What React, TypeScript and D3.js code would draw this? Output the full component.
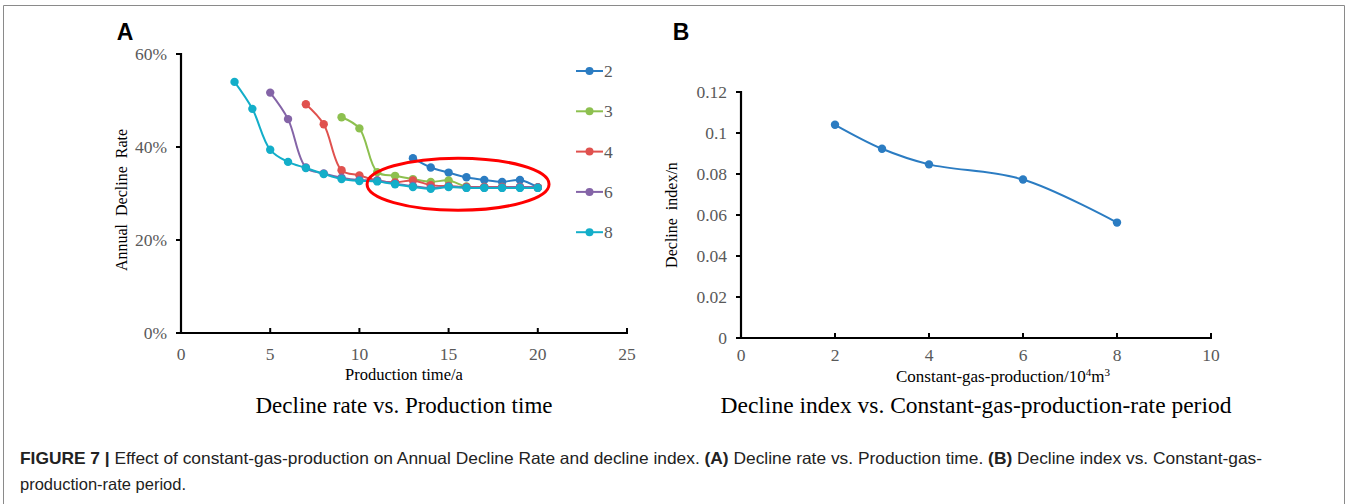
import * as d3 from "d3";

// ---- Panel A: annual decline rate vs production time, one series per constant-gas-production period
const seriesNames = ["2", "3", "4", "6", "8"];
const time2 = [13, 14, 15, 16, 17, 18, 19, 20];
const rate2 = [0.376, 0.356, 0.345, 0.335, 0.329, 0.325, 0.329, 0.313];
const time3 = [9, 10, 11, 12, 13, 14, 15, 16, 17, 18, 19, 20];
const rate3 = [0.464, 0.44, 0.346, 0.338, 0.331, 0.325, 0.328, 0.315, 0.314, 0.314, 0.314, 0.313];
const time4 = [7, 8, 9, 10, 11, 12, 13, 14, 15, 16, 17, 18, 19, 20];
const rate4 = [0.492, 0.449, 0.35, 0.339, 0.328, 0.324, 0.328, 0.318, 0.316, 0.314, 0.314, 0.314, 0.314, 0.313];
const time6 = [5, 6, 7, 8, 9, 10, 11, 12, 13, 14, 15, 16, 17, 18, 19, 20];
const rate6 = [0.517, 0.46, 0.356, 0.343, 0.334, 0.329, 0.328, 0.321, 0.316, 0.312, 0.315, 0.313, 0.313, 0.313, 0.314, 0.313];
const time8 = [3, 4, 5, 6, 7, 8, 9, 10, 11, 12, 13, 14, 15, 16, 17, 18, 19, 20];
const rate8 = [0.54, 0.482, 0.394, 0.368, 0.355, 0.342, 0.331, 0.327, 0.326, 0.32, 0.314, 0.31, 0.314, 0.312, 0.312, 0.312, 0.312, 0.312];
const seriesColors = ["#2b7cc2", "#8dc04f", "#e0514e", "#8464a7", "#13aec9"];
const xTicksA = [0, 5, 10, 15, 20, 25];
const yTicksA = [0, 0.2, 0.4, 0.6];

// ---- Panel B: decline index vs constant-gas-production
const gasProduction = [2, 3, 4, 6, 8];
const declineIndex = [0.104, 0.0923, 0.0847, 0.0773, 0.0563];
const xTicksB = [0, 2, 4, 6, 8, 10];
const yTicksB = [0, 0.02, 0.04, 0.06, 0.08, 0.1, 0.12];

const W = 1351;
const H = 504;
const SERIF = "'Liberation Serif', 'Times New Roman', serif";
const SANS = "'Liberation Sans', Arial, sans-serif";
const TICK_GRAY = "#595959";
const TICK_FS = 17.5;

export default function App() {
  const xA = d3.scaleLinear().domain([0, 25]).range([181, 627]);
  const yA = d3.scaleLinear().domain([0, 0.6]).range([333, 54]);
  const xB = d3.scaleLinear().domain([0, 10]).range([741, 1211]);
  const yB = d3.scaleLinear().domain([0, 0.12]).range([338, 92]);

  const times = [time2, time3, time4, time6, time8];
  const rates = [rate2, rate3, rate4, rate6, rate8];
  const seriesA = seriesNames.map((name, i) => ({
    name,
    color: seriesColors[i],
    points: times[i].map((t, j) => [t, rates[i][j]] as [number, number]),
  }));
  const pointsB = gasProduction.map((g, i) => [g, declineIndex[i]] as [number, number]);

  const lineA = d3
    .line<[number, number]>()
    .x((d) => xA(d[0]))
    .y((d) => yA(d[1]))
    .curve(d3.curveCatmullRom.alpha(0.5));
  const lineB = d3
    .line<[number, number]>()
    .x((d) => xB(d[0]))
    .y((d) => yB(d[1]))
    .curve(d3.curveCatmullRom.alpha(0.5));

  // red highlight ellipse around the converged tail (data units)
  const hl = { t: 15.53, r: 0.32, dt: 5.1, dr: 0.056 };
  const pct = d3.format(".0%");
  const dec = (v: number) => String(+v.toFixed(2));

  return (
    <div style={{ position: "absolute", left: 0, top: 0 }}>
      <svg width={W} height={H} viewBox={`0 0 ${W} ${H}`} style={{ display: "block", background: "#fff" }}>
        {/* figure frame */}
        <path d={`M3.5,${H} V5.5 H1344.5 V${H}`} fill="none" stroke="#8a8a8a" strokeWidth={1} />

        {/* ---------- Panel A ---------- */}
        <text x={125} y={40} fontFamily={SANS} fontWeight="bold" fontSize={23} textAnchor="middle">A</text>

        {yTicksA.map((v) => (
          <g key={"ya" + v}>
            <line x1={176} x2={181} y1={yA(v)} y2={yA(v)} stroke="#000" strokeWidth={2} />
            <text x={167} y={yA(v) + 5.5} textAnchor="end" fontFamily={SERIF} fontSize={TICK_FS} fill={TICK_GRAY}>
              {pct(v)}
            </text>
          </g>
        ))}
        {xTicksA.map((v) => (
          <g key={"xa" + v}>
            <line x1={xA(v)} x2={xA(v)} y1={333} y2={328} stroke="#000" strokeWidth={2} />
            <text x={xA(v)} y={360} textAnchor="middle" fontFamily={SERIF} fontSize={TICK_FS} fill={TICK_GRAY}>
              {v}
            </text>
          </g>
        ))}
        <line x1={181} x2={181} y1={53} y2={334} stroke="#000" strokeWidth={2.2} />
        <line x1={180} x2={628} y1={333} y2={333} stroke="#000" strokeWidth={2.2} />

        <text
          transform={`translate(127,200) rotate(-90)`}
          textAnchor="middle"
          fontFamily={SERIF}
          fontSize={16}
          style={{ whiteSpace: "pre" }}
        >
          {"Annual  Decline  Rate"}
        </text>
        <text x={404} y={380} textAnchor="middle" fontFamily={SERIF} fontSize={16.5}>
          Production time/a
        </text>
        <text x={404} y={413} textAnchor="middle" fontFamily={SERIF} fontSize={23}>
          Decline rate vs. Production time
        </text>

        {seriesA.map((s) => (
          <g key={"s" + s.name}>
            <path d={lineA(s.points) ?? ""} fill="none" stroke={s.color} strokeWidth={2} />
            {s.points.map((p, j) => (
              <circle key={j} cx={xA(p[0])} cy={yA(p[1])} r={4.2} fill={s.color} />
            ))}
          </g>
        ))}

        <ellipse
          cx={xA(hl.t)}
          cy={yA(hl.r)}
          rx={xA(hl.dt) - xA(0)}
          ry={yA(0) - yA(hl.dr)}
          fill="none"
          stroke="#ff0000"
          strokeWidth={3}
        />

        {seriesA.map((s, i) => {
          const ly = 71 + i * 40.3;
          return (
            <g key={"lg" + s.name}>
              <line x1={576} x2={603} y1={ly} y2={ly} stroke={s.color} strokeWidth={2} />
              <circle cx={589.5} cy={ly} r={4} fill={s.color} />
              <text x={604} y={ly + 6} fontFamily={SERIF} fontSize={TICK_FS} fill={TICK_GRAY}>
                {s.name}
              </text>
            </g>
          );
        })}

        {/* ---------- Panel B ---------- */}
        <text x={681} y={40} fontFamily={SANS} fontWeight="bold" fontSize={23} textAnchor="middle">B</text>

        {yTicksB.map((v) => (
          <g key={"yb" + v}>
            <line x1={736} x2={741} y1={yB(v)} y2={yB(v)} stroke="#000" strokeWidth={2} />
            <text x={727} y={yB(v) + 5.5} textAnchor="end" fontFamily={SERIF} fontSize={TICK_FS} fill={TICK_GRAY}>
              {dec(v)}
            </text>
          </g>
        ))}
        {xTicksB.map((v) => (
          <g key={"xb" + v}>
            <line x1={xB(v)} x2={xB(v)} y1={338} y2={333} stroke="#000" strokeWidth={2} />
            <text x={xB(v)} y={361} textAnchor="middle" fontFamily={SERIF} fontSize={TICK_FS} fill={TICK_GRAY}>
              {v}
            </text>
          </g>
        ))}
        <line x1={741} x2={741} y1={91} y2={339} stroke="#000" strokeWidth={2.2} />
        <line x1={740} x2={1212} y1={338} y2={338} stroke="#000" strokeWidth={2.2} />

        <text
          transform={`translate(677,215) rotate(-90)`}
          textAnchor="middle"
          fontFamily={SERIF}
          fontSize={16}
          style={{ whiteSpace: "pre" }}
        >
          {"Decline  index/n"}
        </text>
        <text x={1003} y={382} textAnchor="middle" fontFamily={SERIF} fontSize={17}>
          Constant-gas-production/10
          <tspan dy={-6} fontSize={11}>4</tspan>
          <tspan dy={6}>m</tspan>
          <tspan dy={-6} fontSize={11}>3</tspan>
        </text>
        <text x={976} y={413} textAnchor="middle" fontFamily={SERIF} fontSize={23.5}>
          Decline index vs. Constant-gas-production-rate period
        </text>

        <path d={lineB(pointsB) ?? ""} fill="none" stroke="#2b7cc2" strokeWidth={2} />
        {pointsB.map((p, i) => (
          <circle key={"pb" + i} cx={xB(p[0])} cy={yB(p[1])} r={4.2} fill="#2b7cc2" />
        ))}

        {/* ---------- Caption ---------- */}
        <text x={20} y={464} fontFamily={SANS} fontSize={16.5} fill="#222" textLength={1242} lengthAdjust="spacingAndGlyphs">
          <tspan fontWeight="bold">FIGURE 7 | </tspan>
          Effect of constant-gas-production on Annual Decline Rate and decline index. <tspan fontWeight="bold">(A)</tspan>{" "}
          Decline rate vs. Production time. <tspan fontWeight="bold">(B)</tspan> Decline index vs. Constant-gas-
        </text>
        <text x={20} y={490} fontFamily={SANS} fontSize={16.5} fill="#222">
          production-rate period.
        </text>
      </svg>
    </div>
  );
}
